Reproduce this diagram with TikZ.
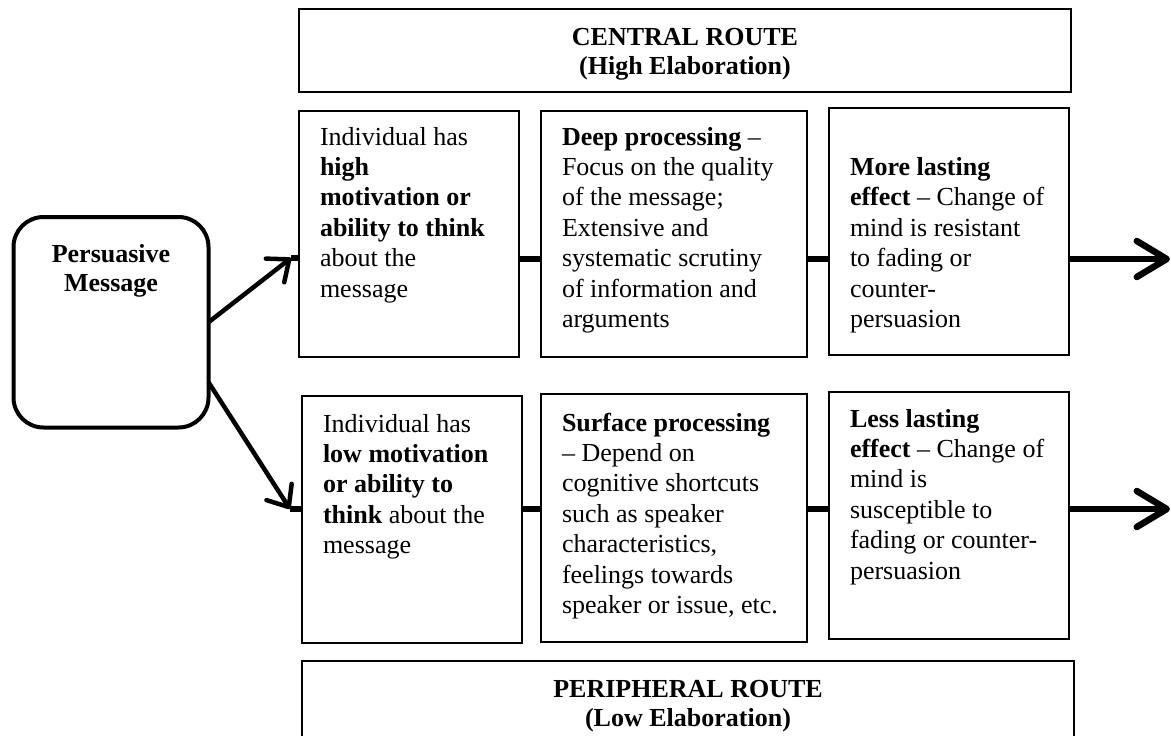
\documentclass[tikz,border=0pt]{standalone}
\usepackage{fontspec}
\setmainfont{Liberation Serif}
\usetikzlibrary{arrows.meta,calc}
\tikzset{
  box/.style={draw, line width=1.5pt, inner sep=0pt, outer sep=0pt, anchor=north west},
  txt/.style={anchor=base west, align=left, inner sep=0pt, outer sep=0pt, font=\fontsize{26pt}{30.4pt}\selectfont},
  title/.style={anchor=base, align=center, inner sep=0pt, outer sep=0pt, font=\fontsize{26pt}{29.5pt}\selectfont\bfseries},
  link/.style={line width=6.5pt},
  outarrow/.style={line width=6.5pt, -{Straight Barb[length=30pt,width=36pt,round]}},
  diagarrow/.style={line width=4.5pt, -{Straight Barb[length=18pt,width=30pt,round]}},
  pmbox/.style={draw, line width=4pt, rounded corners=30pt, inner sep=0pt, outer sep=0pt, anchor=north west}
}
\begin{document}
\begin{tikzpicture}[x=1pt,y=-1pt]
\clip (0,0) rectangle (1171,736);
\fill[white] (0,0) rectangle (1171,736);

% Persuasive message
\node[pmbox, minimum width=195pt, minimum height=210.5pt] (pm) at (13.5,217) {};
\node[title] (pmt) at (111,291.5) {Persuasive\\Message};

% Route boxes
\node[box, minimum width=772pt, minimum height=83pt] (cr) at (299,9) {};
\node[title] (crt) at (685,74.5) {CENTRAL ROUTE\\(High Elaboration)};
\node[box, minimum width=772pt, minimum height=110pt] (pr) at (302,661) {};
\node[title] (prt) at (688,726.5) {PERIPHERAL ROUTE\\(Low Elaboration)};

% Top row
\node[box, minimum width=220pt, minimum height=246pt] (b1) at (299,111) {};
\node[box, minimum width=266pt, minimum height=246pt] (b2) at (541,111) {};
\node[box, minimum width=240pt, minimum height=247pt] (b3) at (829,108) {};
\node[txt] (tb1) at (320,297) {Individual has\\\textbf{high}\\\textbf{motivation or}\\\textbf{ability to think}\\about the\\message};
\node[txt] (tb2) at (562,327.4) {\textbf{Deep processing} --\\Focus on the quality\\of the message;\\Extensive and\\systematic scrutiny\\of information and\\arguments};
\node[txt] (tb3) at (850,327.5) {\textbf{More lasting}\\\textbf{effect} -- Change of\\mind is resistant\\to fading or\\counter-\\persuasion};

% Bottom row
\node[box, minimum width=220pt, minimum height=247pt] (c1) at (302,396) {};
\node[box, minimum width=266pt, minimum height=248pt] (c2) at (541,394) {};
\node[box, minimum width=240pt, minimum height=247pt] (c3) at (829,392) {};
\node[txt] (tc1) at (323,553.6) {Individual has\\\textbf{low motivation}\\\textbf{or ability to}\\\textbf{think} about the\\message};
\node[txt] (tc2) at (562,613.4) {\textbf{Surface processing}\\-- Depend on\\cognitive shortcuts\\such as speaker\\characteristics,\\feelings towards\\speaker or issue, etc.};
\node[txt] (tc3) at (850,579) {\textbf{Less lasting}\\\textbf{effect} -- Change of\\mind is\\susceptible to\\fading or counter-\\persuasion};

% Coordinates
\coordinate (rowA) at (0,259);
\coordinate (rowB) at (0,509);
\coordinate (j1) at (291,258);
\coordinate (j2) at (290,509);
\coordinate (endA) at (1170,259);
\coordinate (endB) at (1170,509);
\coordinate (pmlow) at ($(pm.east)+(0,60)$);

% Arrows from message
\draw[diagarrow] (pm.east) -- (j1);
\draw[diagarrow] (pmlow) -- (j2);
\draw[link] (j1) -- (b1.west |- j1);
\draw[link] (j2) -- (c1.west |- j2);

% Links
\draw[link] (b1.east |- rowA) -- (b2.west |- rowA);
\draw[link] (b2.east |- rowA) -- (b3.west |- rowA);
\draw[link] (c1.east |- rowB) -- (c2.west |- rowB);
\draw[link] (c2.east |- rowB) -- (c3.west |- rowB);
\draw[outarrow] (b3.east |- rowA) -- (endA);
\draw[outarrow] (c3.east |- rowB) -- (endB);
\end{tikzpicture}
\end{document}
